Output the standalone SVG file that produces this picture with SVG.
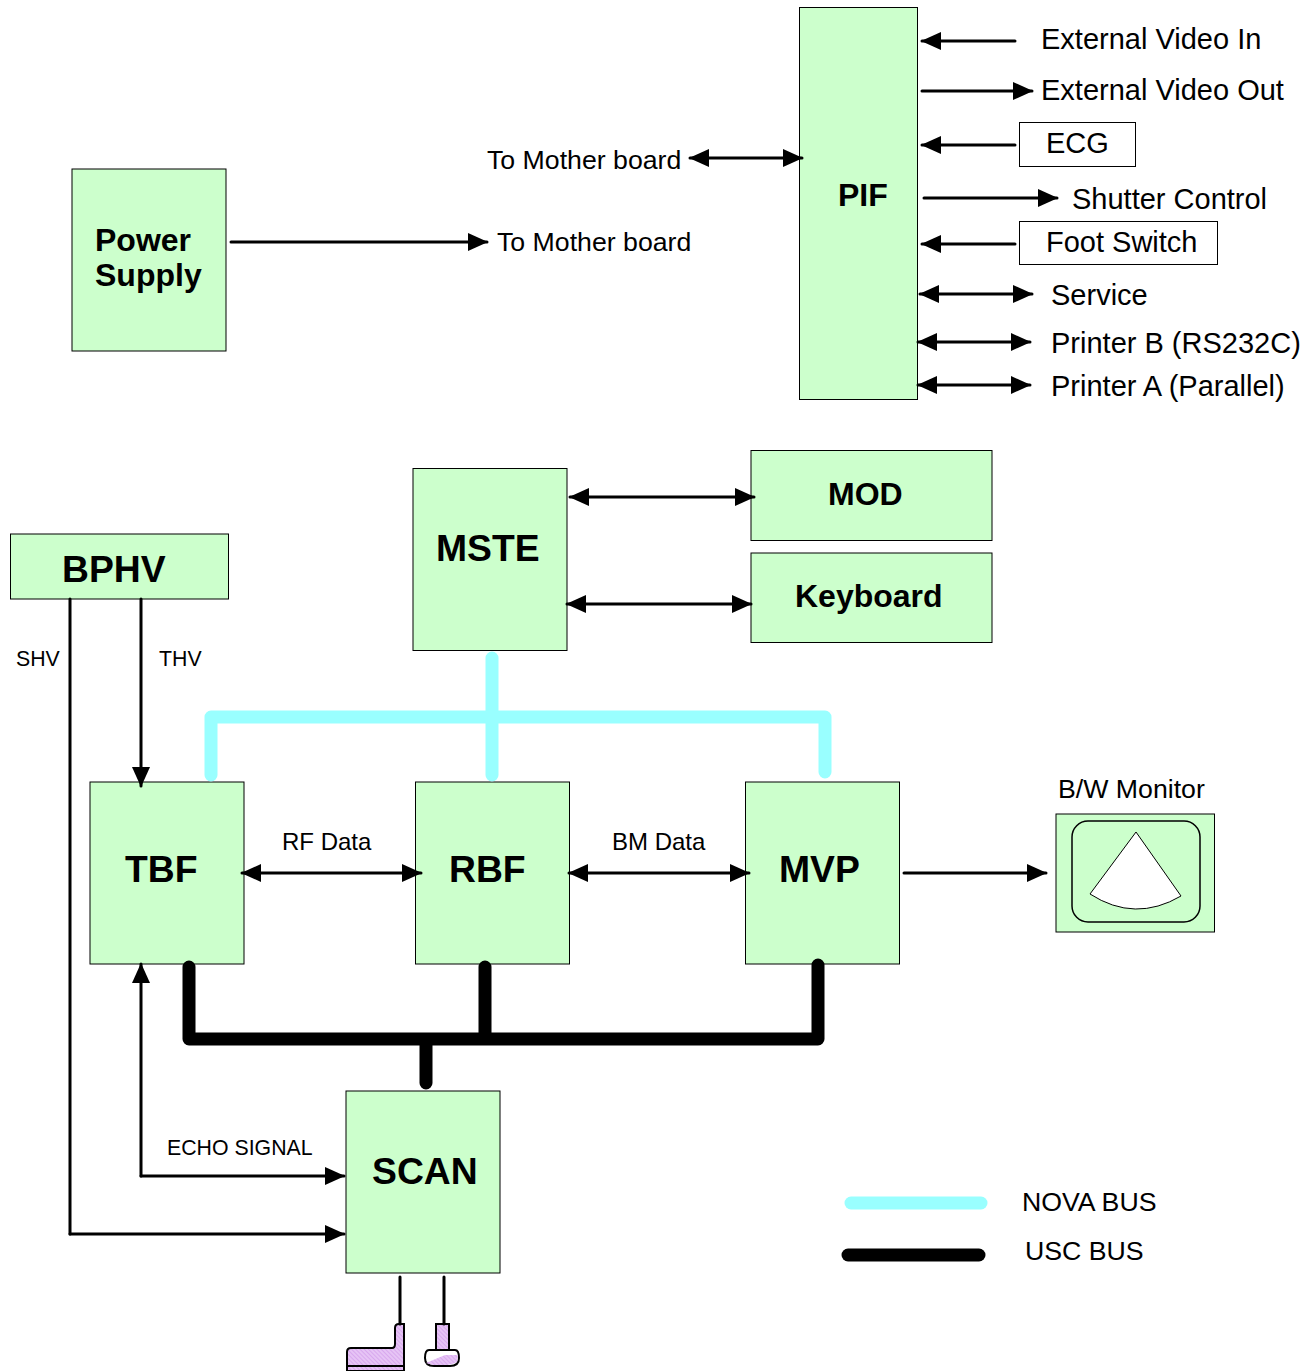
<svg xmlns="http://www.w3.org/2000/svg" width="1315" height="1371" viewBox="0 0 1315 1371">
<style>
text{font-family:"Liberation Sans",Arial,sans-serif;fill:#000}
.b{fill:#ccffcc;stroke:#000;stroke-width:1}
.w{fill:#fff;stroke:#000;stroke-width:1}
.t{font-weight:bold}
.big{font-size:37.300px}
.mid{font-size:32px}
.l{font-size:29px}
.m{font-size:26.700px}
.s{font-size:21.300px}
.a{fill:none;stroke:#000;stroke-width:3;stroke-linecap:round}
.nova{fill:none;stroke:#99ffff;stroke-width:13;stroke-linecap:round;stroke-linejoin:round}
.usc{fill:none;stroke:#000;stroke-width:13;stroke-linecap:round;stroke-linejoin:round}
.p{fill:url(#hatch);stroke:#000;stroke-width:2}
</style>
<defs>
<marker id="e" viewBox="0 0 20 18" refX="19" refY="9" markerWidth="20" markerHeight="18" markerUnits="userSpaceOnUse" orient="auto-start-reverse"><path d="M0 0L20 9L0 18Z" fill="#000"/></marker>
<pattern id="hatch" width="3" height="3" patternUnits="userSpaceOnUse" patternTransform="rotate(45)"><rect width="3" height="3" fill="#e6c4f5"/><rect width="3" height="1" fill="#d8a8ee"/></pattern>
</defs>
<g id="power-supply"><rect class="b" x="72" y="169" width="154" height="182"/><text class="t" x="95" y="251" font-size="32">Power</text><text class="t" x="95" y="286" font-size="32">Supply</text></g>
<g id="pif"><rect class="b" x="799.500" y="7.500" width="118" height="392"/><text class="t" x="838" y="206" font-size="32">PIF</text></g>
<g id="ecg"><rect class="w" x="1019.500" y="122.500" width="116" height="44"/><text class="l" x="1046" y="153">ECG</text></g>
<g id="foot-switch"><rect class="w" x="1019.500" y="221.500" width="198" height="43"/><text class="l" x="1046" y="252">Foot Switch</text></g>
<g id="mste"><rect class="b" x="413" y="468.500" width="154" height="182"/><text class="t big" x="436" y="561">MSTE</text></g>
<g id="mod"><rect class="b" x="751" y="450.500" width="241" height="90"/><text class="t mid" x="828" y="505">MOD</text></g>
<g id="keyboard"><rect class="b" x="751" y="553" width="241" height="89.500"/><text class="t mid" x="795" y="607">Keyboard</text></g>
<g id="bphv"><rect class="b" x="10.500" y="534" width="218" height="65"/><text class="t big" x="62" y="582">BPHV</text></g>
<g id="tbf"><rect class="b" x="90" y="782" width="154" height="182"/><text class="t big" x="125" y="882">TBF</text></g>
<g id="rbf"><rect class="b" x="415.500" y="782" width="154" height="182"/><text class="t big" x="449" y="882">RBF</text></g>
<g id="mvp"><rect class="b" x="745.500" y="782" width="154" height="182"/><text class="t big" x="779" y="882">MVP</text></g>
<g id="scan"><rect class="b" x="346" y="1091" width="154" height="182"/><text class="t big" x="372" y="1184">SCAN</text></g>
<g id="monitor"><rect class="b" x="1056" y="814" width="158.500" height="118"/>
<rect x="1072" y="821" width="128" height="101" rx="16" fill="#ccffcc" stroke="#000" stroke-width="1.500"/>
<path d="M1136 832L1090 894Q1135 923 1181 896Z" fill="#fff" stroke="#000" stroke-width="1"/>
<text class="m" x="1058" y="798">B/W Monitor</text></g>
<g id="probes">
<path class="p" d="M347 1371V1352Q347 1348 351 1348H392Q395 1348 395 1344V1328Q395 1324 399 1324H404V1371ZM347 1366H404"/>
<path class="p" d="M436 1324H449V1350H436Z"/>
<path d="M429 1350H455Q459 1350 459 1358Q459 1366 450 1366H434Q425 1366 425 1358Q425 1350 429 1350Z" fill="#fff" stroke="#000" stroke-width="2"/>
<path d="M426 1363L445 1355H458L457 1362Q452 1365 447 1365H433Z" fill="url(#hatch)"/>
</g>
<g id="connectors">
<g class="nova-bus"><path class="nova" d="M211 775V717H825V772M492 658V775"/></g>
<g class="usc-bus"><path class="usc" d="M189 967V1039H818V965M485 967V1039M426 1039V1083"/></g>
<path class="a" marker-end="url(#e)" d="M1015 41H922"/>
<path class="a" marker-end="url(#e)" d="M922 91H1032"/>
<path class="a" marker-end="url(#e)" d="M1015 145H922"/>
<path class="a" marker-end="url(#e)" d="M924 198H1057"/>
<path class="a" marker-end="url(#e)" d="M1015 244H922"/>
<path class="a" marker-start="url(#e)" marker-end="url(#e)" d="M920 294H1032"/>
<path class="a" marker-start="url(#e)" marker-end="url(#e)" d="M918 342H1030"/>
<path class="a" marker-start="url(#e)" marker-end="url(#e)" d="M918 385H1030"/>
<path class="a" marker-start="url(#e)" marker-end="url(#e)" d="M690 158H802"/>
<path class="a" marker-end="url(#e)" d="M231 242H487"/>
<path class="a" marker-start="url(#e)" marker-end="url(#e)" d="M570 497H754"/>
<path class="a" marker-start="url(#e)" marker-end="url(#e)" d="M567 604H751"/>
<path class="a" marker-start="url(#e)" marker-end="url(#e)" d="M242 873H421"/>
<path class="a" marker-start="url(#e)" marker-end="url(#e)" d="M569 873H749"/>
<path class="a" marker-end="url(#e)" d="M904 873H1046"/>
<path class="a" marker-end="url(#e)" d="M141 599V786"/>
<path class="a" d="M70 599V1234"/>
<path class="a" marker-end="url(#e)" d="M70 1234H344"/>
<path class="a" marker-start="url(#e)" d="M141 964V1176"/>
<path class="a" marker-end="url(#e)" d="M141 1176H344"/>
<path class="a" d="M400 1277V1324M444 1277V1324"/>
</g>
<g id="labels">
<text class="l" x="1041" y="49">External Video In</text>
<text class="l" x="1041" y="100">External Video Out</text>
<text class="l" x="1072" y="209">Shutter Control</text>
<text class="l" x="1051" y="305">Service</text>
<text class="l" x="1051" y="353">Printer B (RS232C)</text>
<text class="l" x="1051" y="396">Printer A (Parallel)</text>
<text class="m" x="487" y="169">To Mother board</text>
<text class="m" x="497" y="251">To Mother board</text>
<text class="s" x="16" y="666">SHV</text>
<text class="s" x="159" y="666">THV</text>
<text font-size="24" x="282" y="850">RF Data</text>
<text font-size="24" x="612" y="850">BM Data</text>
<text class="s" x="167" y="1155">ECHO SIGNAL</text>
</g>
<g id="legend">
<path class="nova" d="M851 1203H981"/>
<path class="usc" d="M848 1255H979"/>
<text class="m" x="1022" y="1211">NOVA BUS</text>
<text class="m" x="1025" y="1260">USC BUS</text>
</g>
</svg>
